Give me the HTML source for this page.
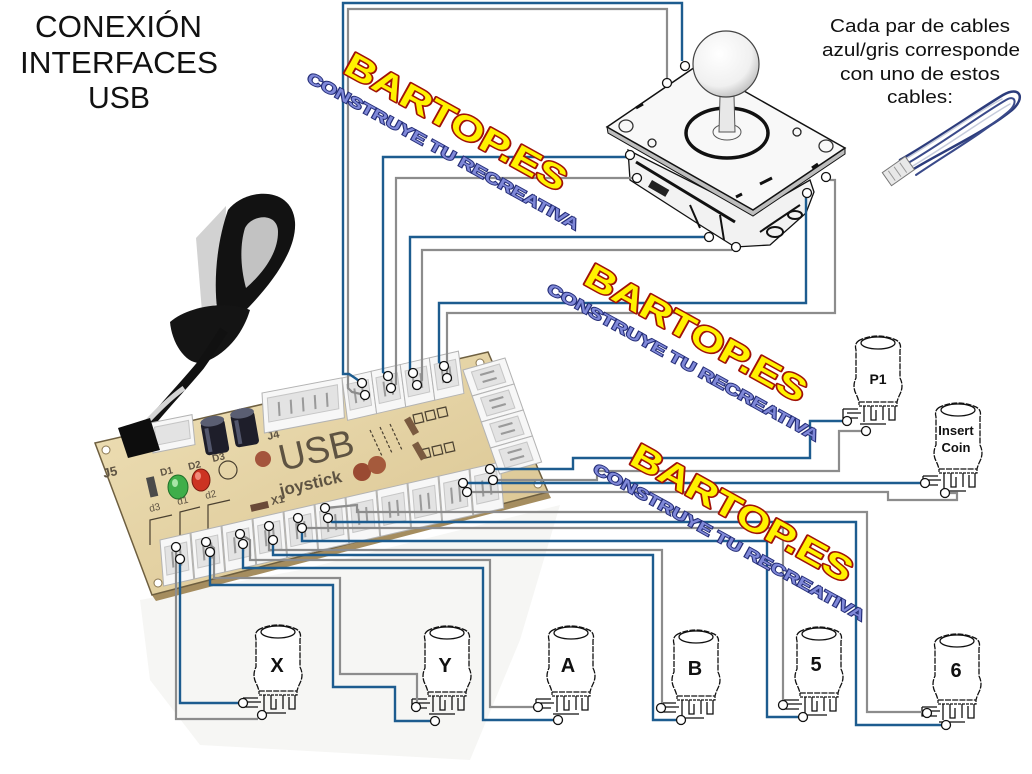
<!DOCTYPE html>
<html><head><meta charset="utf-8">
<style>
html,body{margin:0;padding:0;background:#fff;}
svg{display:block;}
</style></head><body>
<svg width="1032" height="774" viewBox="0 0 1032 774" xmlns="http://www.w3.org/2000/svg" xmlns:xlink="http://www.w3.org/1999/xlink">
<defs>
<linearGradient id="pcb" x1="0" y1="0" x2="1" y2="1"><stop offset="0" stop-color="#efe1b8"/><stop offset="1" stop-color="#d8c28e"/></linearGradient>
<radialGradient id="ball" cx="0.4" cy="0.35" r="0.75"><stop offset="0" stop-color="#ffffff"/><stop offset="0.65" stop-color="#f0f0f0"/><stop offset="1" stop-color="#b0b0b0"/></radialGradient>
<g id="btn">
<path d="M8,6 Q2,9 4,16 L4,44 Q0,52 4,60 Q6,64 7,68 L45,68 Q46,64 48,60 Q52,52 48,44 L48,16 Q50,9 44,6 Q26,-2 8,6 Z" fill="#fff" stroke="#111" stroke-width="1.3" stroke-dasharray="6 1.2"/>
<ellipse cx="26" cy="9" rx="17" ry="6" fill="#fff" stroke="#111" stroke-width="1.3"/>
<path d="M7,68 L7,72 L45,72 L45,68" fill="none" stroke="#111" stroke-width="1.2" stroke-dasharray="3 1"/>
<path d="M-9,75 L6,75 M-9,75 L-9,84 L6,84 M-5,79 L9,79 M12,72 L12,88 M19,72 L19,86 L24,86 L24,76 M31,72 L31,86 M37,74 L37,86 L43,86 L43,72 M8,90 L34,90" fill="none" stroke="#111" stroke-width="1.3"/>
</g>
<g id="c2">
<rect width="30" height="46" fill="#f7f7f7" stroke="#b3b3b3" stroke-width="1"/>
<rect x="4" y="8" width="22" height="28" fill="#e3e3e3" stroke="#c6c6c6" stroke-width="1"/>
<line x1="11" y1="14" x2="11" y2="30" stroke="#9a9a9a" stroke-width="2"/>
<line x1="19" y1="14" x2="19" y2="30" stroke="#9a9a9a" stroke-width="2"/>
</g>
<g id="cv">
<rect width="42" height="26" fill="#f7f7f7" stroke="#b3b3b3" stroke-width="1"/>
<rect x="7" y="4" width="28" height="18" fill="#e3e3e3" stroke="#c6c6c6" stroke-width="1"/>
<line x1="14" y1="9" x2="28" y2="9" stroke="#9a9a9a" stroke-width="2"/>
<line x1="14" y1="16" x2="28" y2="16" stroke="#9a9a9a" stroke-width="2"/>
</g>
</defs>

<!-- photo background shading -->
<polygon points="140,600 300,570 560,505 520,640 470,760 200,745 150,680" fill="#f6f6f4"/>

<!-- USB cable -->
<polygon points="196,238 226,206 224,300 202,312" fill="#d2d2d2"/>
<path d="M228,210 C245,188 292,185 295,222 C297,252 268,288 244,312 L222,334 C212,300 214,250 228,210 Z" fill="#121212"/>
<path d="M245,228 C252,214 278,212 278,232 C278,254 262,274 246,288 C240,266 240,244 245,228 Z" fill="#c2c2c2"/>
<path d="M170,322 C188,306 228,300 250,310 C244,330 230,352 205,362 C188,368 172,345 170,322 Z" fill="#141414"/>
<path d="M140,436 C160,410 180,390 200,366 C210,352 216,342 224,330" fill="none" stroke="#111" stroke-width="9"/>
<path d="M143,426 C158,410 170,398 184,388" fill="none" stroke="#d4d4d4" stroke-width="5"/>

<!-- PCB -->
<polygon points="95,443 152,595 156,601 98,450" fill="#9c8558"/>
<polygon points="152,595 548,492 551,498 156,601" fill="#a58d5f"/>
<polygon points="95,443 488,352 548,492 152,595" fill="url(#pcb)" stroke="#6e5f40" stroke-width="1.5"/>
<circle cx="106" cy="450" r="4" fill="#fff" stroke="#8a7750"/>
<circle cx="158" cy="583" r="4" fill="#fff" stroke="#8a7750"/>
<circle cx="538" cy="484" r="4" fill="#fff" stroke="#8a7750"/>
<circle cx="480" cy="363" r="4" fill="#fff" stroke="#8a7750"/>

<!-- silkscreen -->
<g stroke="#4a4030" stroke-width="1.2" fill="none">
<path d="M150,545 L150,520 L172,515"/>
<path d="M180,540 L180,512 L200,507"/>
<path d="M208,533 L208,505 L230,500"/>
<rect x="413" y="415" width="9" height="9" transform="rotate(-13 413 415)"/>
<rect x="425" y="412" width="9" height="9" transform="rotate(-13 425 412)"/>
<rect x="437" y="409" width="9" height="9" transform="rotate(-13 437 409)"/>
<rect x="420" y="450" width="9" height="9" transform="rotate(-13 420 450)"/>
<rect x="432" y="447" width="9" height="9" transform="rotate(-13 432 447)"/>
<rect x="444" y="444" width="9" height="9" transform="rotate(-13 444 444)"/>
<path d="M370,430 L382,456 M380,427 L392,453 M390,424 L402,450" stroke-dasharray="3 2"/>
</g>
<rect x="404" y="420" width="7" height="18" fill="#7a5a40" transform="rotate(-30 404 420)"/>
<rect x="412" y="445" width="7" height="18" fill="#7a5a40" transform="rotate(-30 412 445)"/>
<rect x="250" y="505" width="18" height="7" fill="#6a4a38" transform="rotate(-13 250 505)"/>
<rect x="146" y="478" width="8" height="20" fill="#4a4a4a" transform="rotate(-13 146 478)"/>

<!-- capacitors -->
<g transform="rotate(-10 215 437)"><rect x="203" y="420" width="24" height="34" rx="4" fill="#1e1e2a"/><ellipse cx="215" cy="421" rx="12" ry="5" fill="#5a5e72"/><rect x="206" y="427" width="4" height="24" fill="#6a6f8a" opacity=".7"/></g>
<g transform="rotate(-10 245 430)"><rect x="233" y="412" width="24" height="34" rx="4" fill="#1e1e2a"/><ellipse cx="245" cy="413" rx="12" ry="5" fill="#5a5e72"/><rect x="236" y="419" width="4" height="24" fill="#6a6f8a" opacity=".7"/></g>
<circle cx="263" cy="459" r="8" fill="#a4553c"/>
<circle cx="362" cy="472" r="9" fill="#9a4a32"/>
<circle cx="377" cy="465" r="9" fill="#a55a3c"/>
<!-- LEDs -->
<ellipse cx="178" cy="487" rx="10" ry="12" fill="#3fae4a" stroke="#1f6f28"/>
<ellipse cx="175" cy="483" rx="3" ry="4" fill="#a8e6a8"/>
<ellipse cx="201" cy="480" rx="9" ry="11" fill="#cc3322" stroke="#7a1a10"/>
<ellipse cx="198" cy="476" rx="3" ry="4" fill="#f08a7a"/>
<circle cx="228" cy="470" r="9" fill="none" stroke="#4a4030" stroke-width="1.2"/>

<!-- board text -->
<g font-family="Liberation Sans, sans-serif" fill="#5e5342">
<text x="282" y="471" font-size="37" transform="rotate(-13 282 471)">USB</text>
<text x="281" y="496" font-size="17" font-weight="bold" transform="rotate(-13 281 496)">joystick</text>
<text x="268" y="440" font-size="11" font-weight="bold" transform="rotate(-13 268 440)">J4</text>
<text x="104" y="478" font-size="13" font-weight="bold" transform="rotate(-13 104 478)">J5</text>
<text x="161" y="476" font-size="10" font-weight="bold" transform="rotate(-13 161 476)">D1</text>
<text x="189" y="470" font-size="10" font-weight="bold" transform="rotate(-13 189 470)">D2</text>
<text x="213" y="462" font-size="10" font-weight="bold" transform="rotate(-13 213 462)">D3</text>
<text x="272" y="505" font-size="11" font-weight="bold" transform="rotate(-13 272 505)">X1</text>
<text x="150" y="512" font-size="10" transform="rotate(-13 150 512)">d3</text>
<text x="178" y="505" font-size="10" transform="rotate(-13 178 505)">d1</text>
<text x="206" y="499" font-size="10" transform="rotate(-13 206 499)">d2</text>
</g>

<!-- connectors -->
<g transform="matrix(1,-0.229,0.08,1,160,540)">
<use xlink:href="#c2" x="0"/><use xlink:href="#c2" x="31"/><use xlink:href="#c2" x="62"/><use xlink:href="#c2" x="93"/><use xlink:href="#c2" x="124"/><use xlink:href="#c2" x="155"/><use xlink:href="#c2" x="186"/><use xlink:href="#c2" x="217"/><use xlink:href="#c2" x="248"/><use xlink:href="#c2" x="279"/><use xlink:href="#c2" x="310"/>
</g>
<g transform="matrix(1,-0.286,0.352,1,463,370)">
<use xlink:href="#cv" y="0"/><use xlink:href="#cv" y="26"/><use xlink:href="#cv" y="52"/><use xlink:href="#cv" y="78"/>
</g>
<g transform="matrix(0.97,-0.224,0.12,0.92,342,378)">
<use xlink:href="#c2" x="0"/><use xlink:href="#c2" x="30"/><use xlink:href="#c2" x="60"/><use xlink:href="#c2" x="90"/>
</g>
<g transform="matrix(1,-0.19,0.06,1,262,393)">
<rect width="80" height="40" fill="#f7f7f7" stroke="#b3b3b3"/>
<rect x="5" y="6" width="70" height="24" fill="#e3e3e3" stroke="#c6c6c6"/>
<path d="M16,12 L16,26 M28,12 L28,26 M40,12 L40,26 M52,12 L52,26 M64,12 L64,26" stroke="#9a9a9a" stroke-width="2"/>
</g>
<g transform="matrix(1,-0.2,0.1,1,150,423)">
<rect width="42" height="30" fill="#f7f7f7" stroke="#b3b3b3"/>
<rect x="4" y="5" width="34" height="18" fill="#e3e3e3" stroke="#c6c6c6"/>
</g>
<polygon points="118,428 150,418 160,450 128,458" fill="#0d0d0d"/>

<!-- joystick -->
<polygon points="628,150 630,180 700,225 735,247 770,245 806,213 814,192 810,180 753,213" fill="#f2f2f2" stroke="#111" stroke-width="1.3"/>
<path d="M636,162 L735,222" stroke="#111" stroke-width="3"/>
<rect x="652" y="180" width="20" height="8" fill="#222" transform="rotate(30 652 180)"/>
<path d="M690,205 L700,228 M720,215 L724,240 M760,232 C770,225 785,215 800,205" stroke="#111" stroke-width="2" fill="none"/>
<ellipse cx="775" cy="232" rx="8" ry="5" fill="none" stroke="#111" stroke-width="2"/>
<ellipse cx="795" cy="215" rx="7" ry="4" fill="none" stroke="#111" stroke-width="2"/>
<polygon points="607,127 753,210 845,148 845,154 753,216 608,133" fill="#bdbdbd" stroke="#111" stroke-width="1"/>
<polygon points="607,127 698,65 845,148 753,210" fill="#f8f8f8" stroke="#111" stroke-width="1.5"/>
<ellipse cx="626" cy="126" rx="7" ry="6" fill="none" stroke="#333" stroke-width="1.3"/>
<ellipse cx="826" cy="146" rx="7" ry="6" fill="none" stroke="#333" stroke-width="1.3"/>
<circle cx="652" cy="143" r="4" fill="none" stroke="#222" stroke-width="1.3"/>
<circle cx="797" cy="132" r="4" fill="none" stroke="#222" stroke-width="1.3"/>
<path d="M636,108 L643,104 M812,168 L818,164 M760,184 L772,178 M736,197 L742,194" stroke="#111" stroke-width="3"/>
<ellipse cx="727" cy="133" rx="41" ry="25" fill="none" stroke="#111" stroke-width="3.5"/>
<ellipse cx="727" cy="132" rx="14" ry="8" fill="none" stroke="#555" stroke-width="1"/>
<polygon points="720,96 734,96 735,132 719,132" fill="#e8e8e8" stroke="#555" stroke-width="1"/>
<circle cx="726" cy="64" r="33" fill="url(#ball)" stroke="#444" stroke-width="1.2"/>

<!-- small cable image top right -->
<g fill="none" stroke-linecap="round">
<path d="M900,160 C935,140 975,112 1003,95 C1020,85 1026,98 1012,110 C985,132 945,150 912,170" stroke="#2c3c7c" stroke-width="2.5"/>
<path d="M903,166 C940,145 980,115 1006,100 C1016,94 1018,104 1008,112 C980,135 950,152 916,175" stroke="#3a4a8a" stroke-width="2"/>
<path d="M897,164 C935,142 975,113 1002,99" stroke="#c6ccdc" stroke-width="1.5"/>
<path d="M906,170 C944,148 985,118 1010,104" stroke="#c6ccdc" stroke-width="1.5"/>
</g>
<g transform="rotate(-35 900 170)"><rect x="884" y="162" width="28" height="16" fill="#e8e8e8" stroke="#777"/><path d="M890,164 L890,176 M897,164 L897,176 M904,164 L904,176" stroke="#999"/></g>

<!-- buttons -->
<use xlink:href="#btn" x="252" y="623"/>
<use xlink:href="#btn" x="421" y="624"/>
<use xlink:href="#btn" x="545" y="624"/>
<use xlink:href="#btn" x="670" y="628"/>
<use xlink:href="#btn" x="793" y="625"/>
<use xlink:href="#btn" x="931" y="632"/>
<use xlink:href="#btn" x="852" y="334"/>
<use xlink:href="#btn" x="932" y="401"/>
<g font-family="Liberation Sans, sans-serif" font-weight="bold" fill="#111" text-anchor="middle">
<text x="277" y="672" font-size="20">X</text>
<text x="445" y="672" font-size="20">Y</text>
<text x="568" y="672" font-size="20">A</text>
<text x="695" y="675" font-size="20">B</text>
<text x="816" y="671" font-size="20">5</text>
<text x="956" y="677" font-size="20">6</text>
<text x="878" y="384" font-size="14">P1</text>
<text x="956" y="435" font-size="13">Insert</text>
<text x="956" y="452" font-size="13">Coin</text>
</g>

<!-- wires -->
<g fill="none" stroke="#8c8c8c" stroke-width="2.2" stroke-linejoin="miter">
<polyline points="365,395 352,392 348,388 348,9 667,9 667,79"/>
<polyline points="391,388 396,384 396,178 633,178"/>
<polyline points="417,385 422,380 422,250 732,250"/>
<polyline points="447,378 447,313 835,313 835,180 830,180"/>
<polyline points="493,480 597,480 597,471 839,471 839,431 862,431"/>
<polyline points="467,492 888,492 888,500 957,500 957,493 949,493"/>
<polyline points="325,508 357,505 357,512 867,512 867,712 922,712"/>
<polyline points="298,518 298,528 783,528 783,701"/>
<polyline points="269,526 269,550 662,550 662,704"/>
<polyline points="240,534 250,540 250,560 490,560 490,707 534,707"/>
<polyline points="206,542 214,548 214,578 340,578 340,674 417,674 417,703"/>
<polyline points="176,547 176,719 258,719"/>
</g>
<g fill="none" stroke="#1d5c8f" stroke-width="2.4" stroke-linejoin="miter">
<polyline points="362,383 355,378 349,374 343,374 343,3 682,3 682,61"/>
<polyline points="388,376 383,372 383,157 626,157"/>
<polyline points="413,373 410,370 410,237 704,237"/>
<polyline points="444,366 439,362 439,303 806,303 806,197"/>
<polyline points="490,469 573,469 573,458 810,458 810,421 843,421"/>
<polyline points="463,483 920,483"/>
<polyline points="328,518 332,522 856,522 856,725 941,725"/>
<polyline points="302,528 302,541 767,541 767,717 798,717"/>
<polyline points="273,540 273,555 653,555 653,720 676,720"/>
<polyline points="243,544 243,568 483,568 483,720 553,720"/>
<polyline points="210,552 210,585 333,585 333,687 395,687 395,721 430,721"/>
<polyline points="180,559 180,703 239,703"/>
</g>
<g fill="#fff" stroke="#111" stroke-width="1.3">
<circle cx="362" cy="383" r="4.5"/><circle cx="365" cy="395" r="4.5"/>
<circle cx="388" cy="376" r="4.5"/><circle cx="391" cy="388" r="4.5"/>
<circle cx="413" cy="373" r="4.5"/><circle cx="417" cy="385" r="4.5"/>
<circle cx="444" cy="366" r="4.5"/><circle cx="447" cy="378" r="4.5"/>
<circle cx="490" cy="469" r="4.5"/><circle cx="493" cy="480" r="4.5"/>
<circle cx="463" cy="483" r="4.5"/><circle cx="467" cy="492" r="4.5"/>
<circle cx="325" cy="508" r="4.5"/><circle cx="328" cy="518" r="4.5"/>
<circle cx="298" cy="518" r="4.5"/><circle cx="302" cy="528" r="4.5"/>
<circle cx="269" cy="526" r="4.5"/><circle cx="273" cy="540" r="4.5"/>
<circle cx="240" cy="534" r="4.5"/><circle cx="243" cy="544" r="4.5"/>
<circle cx="206" cy="542" r="4.5"/><circle cx="210" cy="552" r="4.5"/>
<circle cx="176" cy="547" r="4.5"/><circle cx="180" cy="559" r="4.5"/>
<circle cx="685" cy="66" r="4.5"/><circle cx="667" cy="83" r="4.5"/>
<circle cx="630" cy="155" r="4.5"/><circle cx="637" cy="178" r="4.5"/>
<circle cx="709" cy="237" r="4.5"/><circle cx="736" cy="247" r="4.5"/>
<circle cx="807" cy="193" r="4.5"/><circle cx="826" cy="177" r="4.5"/>
<circle cx="847" cy="421" r="4.5"/><circle cx="866" cy="431" r="4.5"/>
<circle cx="925" cy="483" r="4.5"/><circle cx="945" cy="493" r="4.5"/>
<circle cx="243" cy="703" r="4.5"/><circle cx="262" cy="715" r="4.5"/>
<circle cx="416" cy="707" r="4.5"/><circle cx="435" cy="721" r="4.5"/>
<circle cx="538" cy="707" r="4.5"/><circle cx="558" cy="720" r="4.5"/>
<circle cx="661" cy="708" r="4.5"/><circle cx="681" cy="720" r="4.5"/>
<circle cx="783" cy="705" r="4.5"/><circle cx="803" cy="717" r="4.5"/>
<circle cx="927" cy="713" r="4.5"/><circle cx="946" cy="725" r="4.5"/>
</g>

<!-- watermarks -->
<g font-family="Liberation Sans, sans-serif" font-weight="bold">
<text transform="translate(342,72) rotate(29)" font-size="34" textLength="248" lengthAdjust="spacingAndGlyphs" fill="#fff200" stroke="#a01208" stroke-width="3" paint-order="stroke" stroke-linejoin="round">BARTOP.ES</text>
<text transform="translate(306,81) rotate(29)" font-size="15" textLength="308" lengthAdjust="spacingAndGlyphs" fill="#7f88d8" stroke="#252e78" stroke-width="1.8" paint-order="stroke">CONSTRUYE TU RECREATIVA</text>
<text transform="translate(582,283) rotate(29)" font-size="34" textLength="248" lengthAdjust="spacingAndGlyphs" fill="#fff200" stroke="#a01208" stroke-width="3" paint-order="stroke" stroke-linejoin="round">BARTOP.ES</text>
<text transform="translate(546,292) rotate(29)" font-size="15" textLength="308" lengthAdjust="spacingAndGlyphs" fill="#7f88d8" stroke="#252e78" stroke-width="1.8" paint-order="stroke">CONSTRUYE TU RECREATIVA</text>
<text transform="translate(628,463) rotate(29)" font-size="34" textLength="248" lengthAdjust="spacingAndGlyphs" fill="#fff200" stroke="#a01208" stroke-width="3" paint-order="stroke" stroke-linejoin="round">BARTOP.ES</text>
<text transform="translate(592,472) rotate(29)" font-size="15" textLength="308" lengthAdjust="spacingAndGlyphs" fill="#7f88d8" stroke="#252e78" stroke-width="1.8" paint-order="stroke">CONSTRUYE TU RECREATIVA</text>
</g>

<!-- titles -->
<g font-family="Liberation Sans, sans-serif" fill="#111" text-anchor="middle">
<text x="118.5" y="37" font-size="31" textLength="167" lengthAdjust="spacingAndGlyphs">CONEXIÓN</text>
<text x="119" y="73" font-size="31" textLength="198" lengthAdjust="spacingAndGlyphs">INTERFACES</text>
<text x="119" y="108" font-size="31" textLength="62" lengthAdjust="spacingAndGlyphs">USB</text>
<text x="920" y="32" font-size="18" textLength="180" lengthAdjust="spacingAndGlyphs">Cada par de cables</text>
<text x="921" y="56" font-size="18" textLength="198" lengthAdjust="spacingAndGlyphs">azul/gris corresponde</text>
<text x="920" y="80" font-size="18" textLength="160" lengthAdjust="spacingAndGlyphs">con uno de estos</text>
<text x="920" y="103" font-size="18" textLength="66" lengthAdjust="spacingAndGlyphs">cables:</text>
</g>
</svg>
</body></html>
